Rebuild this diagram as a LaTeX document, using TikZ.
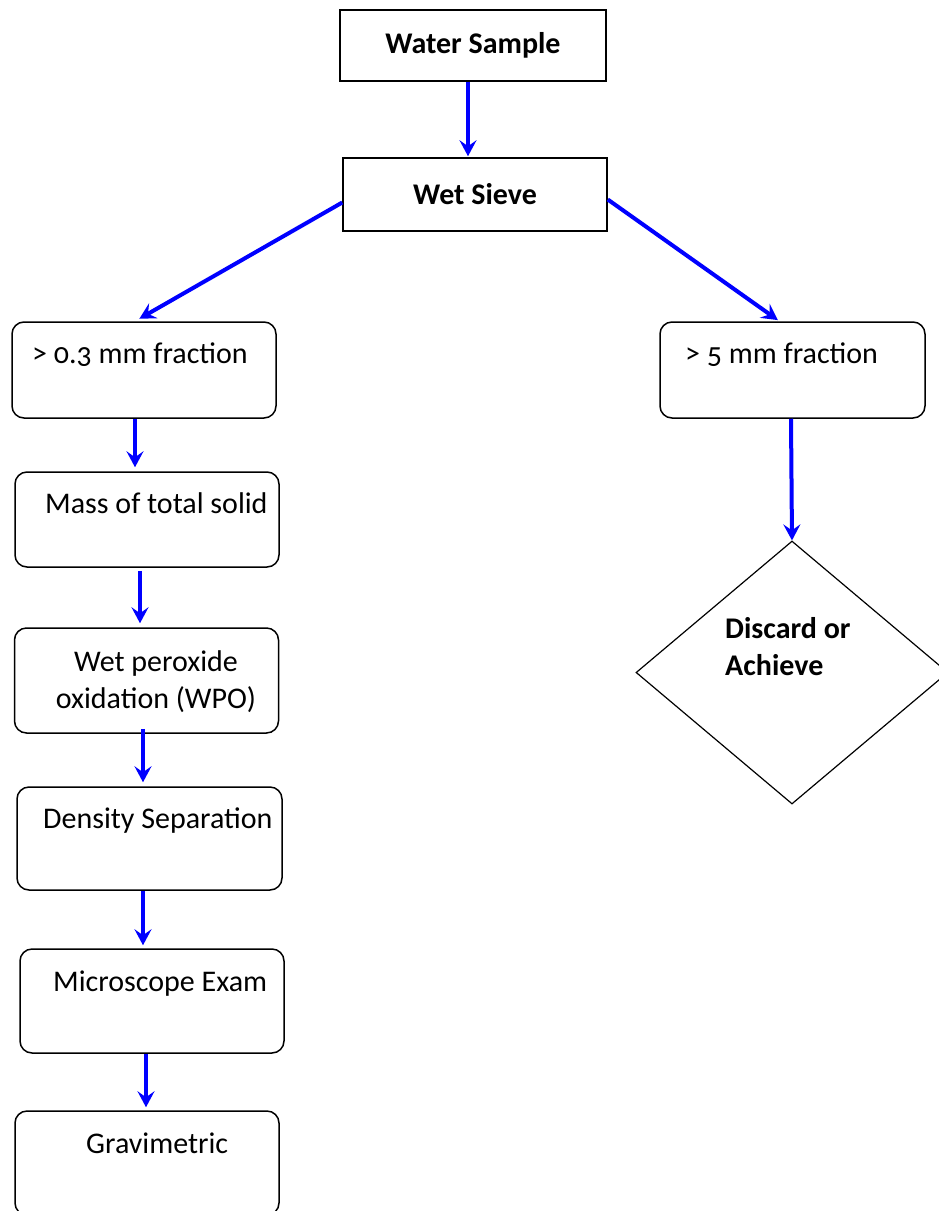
\documentclass[tikz,border=0pt]{standalone}
\usepackage{fontspec}
\setmainfont{Carlito}[Numbers=OldStyle]
\usetikzlibrary{arrows.meta,shapes.geometric,positioning}
\begin{document}
\begin{tikzpicture}[x=1pt,y=-1pt,font=\fontsize{30}{37}\selectfont,
	sharpbox/.style={draw,line width=1.5pt,inner sep=0pt},
	roundbox/.style={draw,line width=1.5pt,rounded corners=12pt,minimum width=264pt,inner sep=0pt},
	boxtext/.style={anchor=base west,inner sep=0pt},
	flow/.style={draw=blue,line width=4pt,shorten >=3pt,-{Stealth[length=16pt,width=17pt,inset=6pt]}}]
	\useasboundingbox (0,0) rectangle (938,1211);
	\node[sharpbox,minimum width=266pt,minimum height=71pt] (water) at (473,45.5) {\bfseries Water Sample};
	\node[sharpbox,minimum width=264pt,minimum height=73pt] (sieve) at (475,194.5) {\bfseries Wet Sieve};
	\node[roundbox,minimum height=96pt] (frac03) at (144,370) {};
	\node[boxtext] (t-frac03) at (32,363) {> 0.3 mm fraction};
	\node[roundbox,minimum width=265pt,minimum height=96pt] (frac5) at (792.5,370) {};
	\node[boxtext] (t-frac5) at (685,363) {> 5 mm fraction};
	\node[roundbox,minimum height=95pt] (mass) at (147,519.5) {};
	\node[boxtext] (t-mass) at (45,513) {Mass of total solid};
	\node[roundbox,minimum height=105pt] (wpo) at (146.5,680.5) {};
	\node[align=center,anchor=base,inner sep=0pt] (t-wpo) at (156,708) {Wet peroxide\\oxidation (WPO)};
	\node[roundbox,minimum width=265pt,minimum height=103pt] (dens) at (149.5,838.5) {};
	\node[boxtext] (t-dens) at (43,828) {Density Separation};
	\node[roundbox,minimum height=104pt] (micro) at (152,1001) {};
	\node[boxtext] (t-micro) at (53,991) {Microscope Exam};
	\node[roundbox,minimum height=104pt] (grav) at (147,1163) {};
	\node[boxtext] (t-grav) at (86,1153) {Gravimetric};
	\node[draw,diamond,line width=1.2pt,minimum width=312pt,minimum height=263pt,inner sep=0pt] (decide) at (792,672.5) {};
	\node[align=left,anchor=base west,inner sep=0pt] (t-decide) at (725,675) {\bfseries Discard or\\\bfseries Achieve};
	\draw[flow,shorten >=1pt] ([xshift=-5pt]water.south) -- ([xshift=-7pt]sieve.north);
	\draw[flow,shorten >=5pt] ([yshift=-8pt]sieve.west) -- ([xshift=-9pt]frac03.north);
	\draw[flow,shorten >=2pt] ([yshift=-5pt]sieve.east) -- ([xshift=-13pt]frac5.north);
	\draw[flow,shorten >=4pt] ([xshift=-9pt]frac03.south) -- ([xshift=-12pt]mass.north);
	\draw[flow,shorten >=0pt] ([xshift=-1.5pt]frac5.south) -- (decide.north);
	\draw[flow,shorten <=3pt,shorten >=4pt] ([xshift=-7pt]mass.south) -- ([xshift=-6.5pt]wpo.north);
	\draw[flow,shorten <=-5pt,shorten >=4pt] ([xshift=-3.5pt]wpo.south) -- ([xshift=-6.5pt]dens.north);
	\draw[flow] ([xshift=-6.5pt]dens.south) -- ([xshift=-9pt]micro.north);
	\draw[flow] ([xshift=-6pt]micro.south) -- ([xshift=-1pt]grav.north);
\end{tikzpicture}
\end{document}
